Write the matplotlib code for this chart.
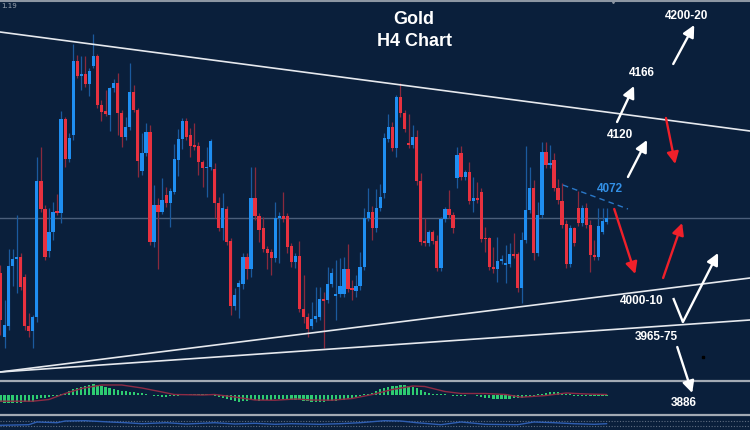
import matplotlib.pyplot as plt
import numpy as np

# H4 candles (price units)
opens = [3987, 3923, 3934, 3994, 4001, 4003, 3983, 3934, 3929, 3943,
         4079, 4051, 4009, 4028, 4049, 4047, 4141, 4101, 4125, 4199,
         4184, 4186, 4176, 4194, 4204, 4155, 4149, 4145, 4172, 4177,
         4147, 4123, 4133, 4168, 4150, 4089, 4107, 4128, 4018, 4055,
         4048, 4065, 4057, 4068, 4100, 4121, 4139, 4125, 4115, 4114,
         4098, 4092, 4093, 4091, 4057, 4032, 4051, 4019, 3954, 3973,
         3976, 4003, 3991, 4062, 4044, 4032, 4011, 4008, 4002, 4042,
         4044, 4044, 4014, 3998, 4004, 3951, 3943, 3934, 3941, 3943,
         3961, 3960, 3976, 3964, 3966, 3966, 3991, 3972, 3969, 3974,
         3993, 4042, 4048, 4032, 4052, 4067, 4121, 4133, 4112, 4163,
         4147, 4117, 4115, 4123, 4079, 4019, 4017, 4028, 4019, 3992,
         4041, 4051, 4045, 4082, 4107, 4083, 4088, 4059, 4062, 4068,
         4022, 4022, 3993, 3991, 3999, 3995, 3996, 4006, 4006, 3972,
         4020, 4050, 4072, 4007, 4045, 4108, 4095, 4100, 4072, 4059,
         4036, 3996, 4032, 4052, 4037, 4052, 4035, 4005, 4003, 4028,
         4038]
highs = [3995, 3960, 4011, 4011, 4045, 4007, 3986, 3947, 3945, 4103,
         4113, 4055, 4052, 4058, 4066, 4149, 4143, 4127, 4216, 4205,
         4204, 4204, 4192, 4226, 4206, 4160, 4170, 4173, 4181, 4187,
         4150, 4143, 4197, 4175, 4152, 4127, 4137, 4135, 4075, 4062,
         4082, 4073, 4072, 4116, 4131, 4142, 4142, 4132, 4137, 4118,
         4100, 4113, 4121, 4097, 4063, 4067, 4054, 4022, 3972, 3980,
         4007, 4007, 4093, 4093, 4047, 4043, 4014, 4011, 4058, 4048,
         4068, 4047, 4017, 4007, 4019, 3985, 3947, 3958, 3973, 3973,
         3968, 3993, 3992, 4000, 4002, 4003, 4016, 3980, 3985, 4008,
         4052, 4072, 4054, 4071, 4076, 4127, 4146, 4138, 4165, 4177,
         4150, 4146, 4135, 4130, 4087, 4042, 4030, 4030, 4025, 4043,
         4053, 4070, 4048, 4113, 4114, 4090, 4098, 4083, 4078, 4072,
         4033, 4023, 4013, 4023, 4005, 4015, 4017, 4027, 4008, 4028,
         4114, 4093, 4080, 4058, 4118, 4118, 4115, 4107, 4081, 4077,
         4040, 4035, 4033, 4069, 4055, 4057, 4040, 4020, 4052, 4052,
         4052]
lows = [3925, 3912, 3930, 3974, 3967, 3970, 3930, 3923, 3912, 3938,
        4048, 4000, 4003, 4020, 4045, 4037, 4093, 4098, 4120, 4182,
        4170, 4173, 4164, 4192, 4152, 4139, 4144, 4129, 4168, 4125,
        4113, 4120, 4130, 4148, 4083, 4085, 4104, 4015, 4013, 3991,
        4046, 4053, 4033, 4066, 4084, 4111, 4120, 4103, 4110, 4085,
        4073, 4063, 4090, 4042, 4029, 4020, 4015, 3945, 3950, 3942,
        3971, 3981, 3983, 4040, 4018, 4008, 3991, 3985, 3998, 3997,
        4038, 4007, 3993, 3992, 3948, 3937, 3923, 3931, 3938, 3940,
        3912, 3957, 3973, 3940, 3963, 3963, 3968, 3960, 3963, 3970,
        3990, 4039, 4020, 4028, 4049, 4062, 4118, 4109, 4103, 4143,
        4128, 4112, 4112, 4075, 4015, 4014, 4014, 4016, 3989, 3989,
        4038, 4042, 4027, 4072, 4080, 4080, 4056, 4048, 4057, 4018,
        4008, 3990, 3987, 3978, 3996, 3977, 3993, 4002, 3968, 3957,
        4017, 4047, 4000, 4004, 4042, 4092, 4092, 4069, 4056, 4032,
        3992, 3993, 4014, 4034, 4034, 4032, 3988, 4000, 4000, 4026,
        4036]
closes = [3940, 3935, 3994, 4001, 4003, 3973, 3934, 3929, 3943, 4079,
          4051, 4003, 4028, 4048, 4047, 4141, 4101, 4122, 4199, 4184,
          4186, 4176, 4189, 4204, 4155, 4148, 4146, 4172, 4177, 4147,
          4123, 4133, 4168, 4150, 4099, 4107, 4128, 4018, 4055, 4048,
          4060, 4057, 4069, 4101, 4121, 4139, 4123, 4114, 4113, 4098,
          4092, 4093, 4119, 4057, 4032, 4052, 4018, 3954, 3965, 3977,
          4003, 3991, 4062, 4044, 4030, 4011, 4007, 4002, 4042, 4044,
          4041, 4013, 3998, 4004, 3951, 3943, 3931, 3941, 3944, 3961,
          3959, 3976, 3987, 3966, 3974, 3991, 3971, 3970, 3974, 3993,
          4042, 4048, 4032, 4052, 4063, 4122, 4133, 4112, 4163, 4147,
          4131, 4115, 4123, 4079, 4018, 4017, 4028, 4019, 3992, 4041,
          4051, 4045, 4032, 4105, 4083, 4088, 4059, 4062, 4060, 4021,
          4021, 3993, 3991, 3999, 4001, 3997, 4006, 4004, 3972, 4020,
          4050, 4072, 4007, 4045, 4108, 4095, 4097, 4072, 4060, 4035,
          3996, 4032, 4017, 4037, 4052, 4035, 4005, 4003, 4034, 4039,
          4042]

# MACD histogram and signal
macd_hist = [-7, -8, -8, -8, -8, -8, -7, -7, -7,
             -4, -3, -3, -2, -1, -1,
             1, 2, 4,
             6, 7, 8, 9, 10,
             11, 10, 9, 8,
             7, 6, 5, 4,
             4, 3, 3, 2, 2, 1,
             -0.5, -1, -1.5, -2, -2, -1.5, -1, -1, -0.5, 0.5, 0.5, 0.5, 1, 0.5, 0.5, 0.5,
             -1, -2, -3, -4, -5, -6, -7, -6, -6, -5,
             -5, -6, -5, -5, -5, -4, -4, -4, -4, -5, -5, -5,
             -6, -6, -7, -7, -7, -7, -6, -6, -6, -5, -5, -4, -3, -2, -1,
             0.5, 1, 2, 4, 6, 7,
             8, 9, 9, 10, 10, 9, 8, 7,
             5, 3, 2, 1,
             0.5, 0.5, 0.5, -0.5, -1, -1, -1, -1, -0.5, -0.5, -1,
             -2, -3, -3, -4, -4, -4, -4, -4, -3, -3, -3, -2, -2,
             -1, 0.5, 1, 2, 3, 3, 3, 2, 1,
             0.5, -1, -1, -1, -1.5, -1.5, -1, -1, -1, -1]
sig_idx = [0, 8, 12, 16, 20, 25, 30, 35, 40, 43, 50, 53, 58, 63, 68, 73,
           77, 82, 87, 92, 97, 102, 105, 110, 114, 120, 125, 129, 135, 140, 145, 150]
sig_val = [-6.7, -6.7, -5, 1, 6, 9.5, 9.5, 6.5, 2.5, 0, -0.5, 0, -2.5, -5.5, -5.7, -4.5,
           -5.5, -5.7, -4, 0, 5, 8.5, 8, 3, 1, 1, 0, -2.7, -1, 1.5, 0.5, 0]

# lower oscillator
osc_idx = [0, 7, 9, 14, 16, 21, 27, 31, 35, 41, 46, 53, 58, 63, 68, 72,
           79, 84, 89, 95, 99, 103, 109, 114, 120, 128, 132, 137, 142, 147, 150]
osc_val = [4.7, 5.3, 8, 7.3, 9, 9.3, 8, 7.3, 6.3, 7.3, 6, 7.3, 6, 6.7, 5.7, 6.3,
           5.7, 6.3, 7.3, 9.3, 9, 7.3, 5.3, 8, 5.7, 5.3, 8, 7.3, 6.3, 5.7, 6.3]

# drawn objects (bar index, price)
upper_line = [(-0.12, 4228), (185.5, 4129)]
lower_line_a = [(-0.12, 3888), (185.5, 3982)]
lower_line_b = [(-0.12, 3888), (185.5, 3940)]
h_level = 4042
res_line = [(139.2, 4075), (155.3, 4051)]

white_arrows = [((166.5, 4196), (171.7, 4235)),
                ((152.6, 4138), (156.8, 4174)),
                ((155.3, 4083), (160.0, 4120)),
                ((168.9, 3938), (177.6, 4007)),
                ((167.5, 3913), (171.2, 3867))]
red_arrows = [((164.7, 4142), (167.0, 4096)),
              ((151.9, 4051), (157.1, 3986)),
              ((164.0, 3982), (168.7, 4037))]
v_start = (166.5, 3962)

labels = [("4200-20", 169.7, 4244), ("4166", 158.8, 4187), ("4120", 153.3, 4125),
          ("4000-10", 158.8, 3959), ("3965-75", 162.3, 3923), ("3886", 169.2, 3857)]

bg = '#0a1f3b'
blue = '#1f8ef1'
red = '#e8313f'
grid_gray = '#a3aab4'

fig = plt.figure(figsize=(7.5, 4.3), dpi=100)
fig.patch.set_facecolor(bg)
xl = (-0.12, 185.5)

ax = fig.add_axes([0, 49 / 430, 1, 381 / 430])
ax.set_facecolor('none')
ax.set_zorder(3)
ax.set_xlim(*xl)
ax.set_ylim(3879, 4260)
ax.axis('off')

x = np.arange(len(opens))
o = np.array(opens, dtype=float)
c = np.array(closes, dtype=float)
up = c >= o
bot = np.minimum(o, c)
hgt = np.maximum(np.abs(c - o), 1.5)
wick_col = np.where(up, '#1b5a9e', '#8a2a3d')
ax.vlines(x, lows, highs, colors=wick_col, lw=0.9, zorder=2)
ax.bar(x, hgt, bottom=bot, width=0.8, color=np.where(up, blue, red), lw=0, zorder=3)

ax.axhline(h_level, color='#4b5e7a', lw=1, zorder=1)
for ln in (upper_line, lower_line_a, lower_line_b):
    ax.plot([p[0] for p in ln], [p[1] for p in ln], color='#e6e9ee', lw=1.2, zorder=4)
ax.plot([p[0] for p in res_line], [p[1] for p in res_line], color='#2a78c8',
        lw=1, ls=(0, (4, 3)), zorder=4)

astyle = '-|>,head_length=0.5,head_width=0.25'
ax.plot([v_start[0], white_arrows[3][0][0]], [v_start[1], white_arrows[3][0][1]],
        color='white', lw=1.7, zorder=5, solid_capstyle='butt')
for tail, head in white_arrows:
    ax.annotate('', xy=head, xytext=tail, annotation_clip=False, zorder=5,
                arrowprops=dict(arrowstyle=astyle, color='white', lw=1.7,
                                mutation_scale=14, shrinkA=0, shrinkB=0))
for tail, head in red_arrows:
    ax.annotate('', xy=head, xytext=tail, annotation_clip=False, zorder=5,
                arrowprops=dict(arrowstyle=astyle, color='#f0202a', lw=1.7,
                                mutation_scale=14, shrinkA=0, shrinkB=0))

lab_font = dict(family=['Liberation Sans', 'DejaVu Sans'], weight='bold')
for txt, lx, ly in labels:
    ax.text(lx, ly, txt, color='white', fontsize=8.5, ha='center', va='center',
            clip_on=False, zorder=6, **lab_font)
ax.text(150.9, 4071, "4072", color='#3390e6', fontsize=8.5, ha='center', va='center',
        zorder=6, **lab_font)
ax.text(102.4, 4241, "Gold", color='white', fontsize=13, ha='center', va='center', **lab_font)
ax.text(102.4, 4219, "H4 Chart", color='white', fontsize=13, ha='center', va='center', **lab_font)
ax.plot([173.9], [3903], marker='s', ms=1.5, color='black', zorder=6, clip_on=False)
ax.text(0.2, 4254, "1.19", color='#9aa4b0', fontsize=5, ha='left', va='center')

# MACD panel
ax2 = fig.add_axes([0, 15 / 430, 1, 34 / 430])
ax2.set_facecolor('none')
ax2.set_xlim(*xl)
ax2.set_ylim(-20.5, 13.5)
ax2.bar(x, macd_hist, width=0.55, color='#2ecc71', lw=0)
ax2.plot(sig_idx, sig_val, color='#8e2b45', lw=1)
ax2.set_xticks([])
ax2.set_yticks([])
for s in ('left', 'right'):
    ax2.spines[s].set_visible(False)
for s in ('top', 'bottom'):
    ax2.spines[s].set_color(grid_gray)
    ax2.spines[s].set_linewidth(1.6)

# lower oscillator panel
ax3 = fig.add_axes([0, 0, 1, 14 / 430])
ax3.set_facecolor('none')
ax3.set_xlim(*xl)
ax3.set_ylim(0, 14)
ax3.axhline(9, color='#5e6c80', lw=0.8, ls=(0, (1, 1.5)))
ax3.axhline(3.7, color='#5e6c80', lw=0.8, ls=(0, (1, 1.5)))
ax3.plot(osc_idx, osc_val, color='#2f5fb3', lw=1)
ax3.axis('off')

# top border
fig.add_artist(plt.Line2D([0, 1], [1 - 1 / 430, 1 - 1 / 430], color='#8d96a3', lw=1.5))
ax.plot([151.6], [4259], marker='v', ms=3, color='#8d96a3', clip_on=False)

fig.savefig('out.png', dpi=100, facecolor=fig.get_facecolor())
